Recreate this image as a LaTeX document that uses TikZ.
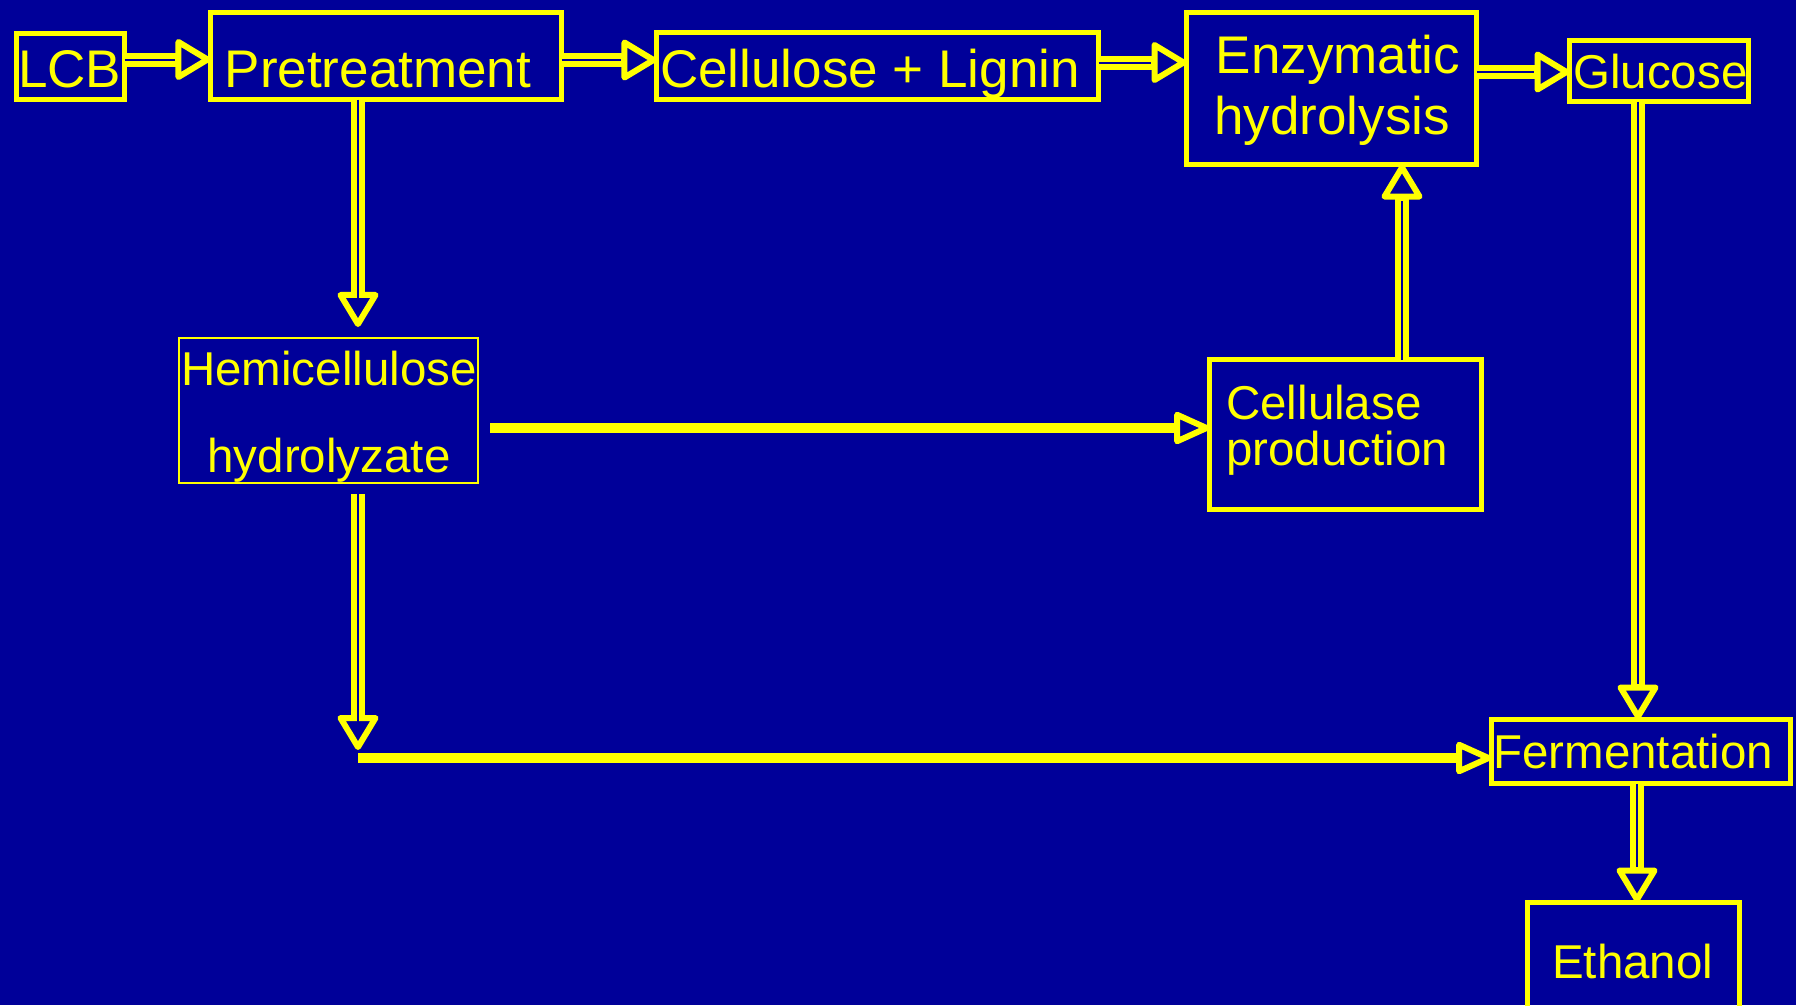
\documentclass[tikz,border=0pt]{standalone}
\usepackage{fontspec}
\setmainfont{Liberation Sans}
\usetikzlibrary{arrows.meta}
\definecolor{bg}{RGB}{0,0,153}
\definecolor{yel}{RGB}{255,255,0}
\tikzset{
  box/.style={draw=yel, line width=5pt, inner sep=0pt, outer sep=0pt},
  thinbox/.style={draw=yel, line width=2pt, inner sep=0pt, outer sep=0pt},
  big/.style={text=yel, inner sep=0pt, font=\fontsize{53pt}{60pt}\selectfont},
  small/.style={text=yel, inner sep=0pt, font=\fontsize{47.5pt}{55pt}\selectfont},
  dar/.style={draw=yel, line width=14pt,
    -{Triangle[open, fill=bg, length=38pt, width=44pt, line width=6pt, round]},
    postaction={draw=bg, line width=2pt, -, shorten >=36pt}},
  sar/.style={draw=yel, line width=10pt,
    -{Triangle[open, fill=bg, length=40pt, width=34pt, line width=6pt, round]}},
}
\begin{document}
\begin{tikzpicture}[x=1pt, y=-1pt]
\fill[bg] (0,0) rectangle (1796,1005);
\useasboundingbox (0,0) rectangle (1796,1005);
\clip (0,0) rectangle (1796,1005);

% boxes
\node[box, minimum width=108pt, minimum height=66pt] (lcb) at (70.5,66.5) {};
\node[box, minimum width=351pt, minimum height=87pt] (pre) at (386,56) {};
\node[box, minimum width=442pt, minimum height=67pt] (cel) at (877.5,66) {};
\node[box, minimum width=290pt, minimum height=152pt] (enz) at (1331.5,88.5) {};
\node[box, minimum width=179pt, minimum height=61pt] (glu) at (1659,71) {};
\node[thinbox, minimum width=299pt, minimum height=145pt] (hemi) at (328.5,410.5) {};
\node[box, minimum width=272pt, minimum height=150pt] (cprod) at (1345.5,434.5) {};
\node[box, minimum width=299pt, minimum height=64pt] (ferm) at (1641,751.5) {};
\node[box, minimum width=212pt, minimum height=127pt] (eth) at (1633.5,966) {};

% texts
\node[big, anchor=base west] (tlcb) at (18,87) {LCB};
\node[big, anchor=base west] (tpre) at (224.5,87) {Pretreatment};
\node[big, anchor=base west] (tcel) at (660,87) {Cellulose + Lignin};
\node[big, anchor=base] (tenz1) at (1338,73) {Enzymatic};
\node[big, anchor=base] (tenz2) at (1332,134) {hydrolysis};
\node[small, anchor=base west] (tglu) at (1573,88) {Glucose};
\node[small, anchor=base] (themi1) at (329,385) {Hemicellulose};
\node[small, anchor=base] (themi2) at (329,472) {hydrolyzate};
\node[small, anchor=base west] (tcp1) at (1226,419) {Cellulase};
\node[small, anchor=base west] (tcp2) at (1226,465) {production};
\node[small, anchor=base west] (tferm) at (1493,768) {Fermentation};
\node[small, anchor=base west] (teth) at (1552,978) {Ethanol};

% helper coordinates
\coordinate (r1) at (0,59.5);
\coordinate (r2) at (0,60);
\coordinate (r3) at (0,62.5);
\coordinate (r4) at (0,72);
\coordinate (r5) at (0,428);
\coordinate (c1) at (358,0);
\coordinate (c2) at (1402,0);
\coordinate (c3) at (1638,0);
\coordinate (c4) at (1637,0);
\coordinate (corner) at (358,758);

% connectors
\draw[dar] (lcb.east |- r1) -- (pre.west |- r1);
\draw[dar] (pre.east |- r2) -- (cel.west |- r2);
\draw[dar] (cel.east |- r3) -- (enz.west |- r3);
\draw[dar] (enz.east |- r4) -- (glu.west |- r4);
\draw[dar, shorten >=11pt] (pre.south -| c1) -- (hemi.north -| c1);
\draw[dar, shorten <=11pt, shorten >=8pt] (hemi.south -| c1) -- (corner);
\draw[sar] (corner) -- (ferm.west |- corner);
\draw[sar, shorten <=12pt] (hemi.east |- r5) -- (cprod.west |- r5);
\draw[dar] (cprod.north -| c2) -- (enz.south -| c2);
\draw[dar] (glu.south -| c3) -- (ferm.north -| c3);
\draw[dar] (ferm.south -| c4) -- (eth.north -| c4);
\end{tikzpicture}
\end{document}
